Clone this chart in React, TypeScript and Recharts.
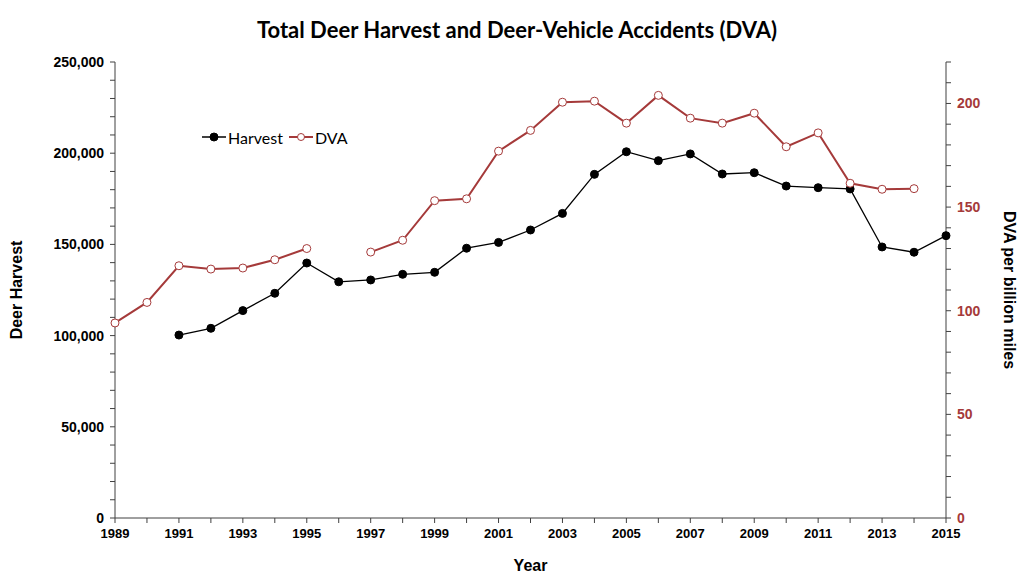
import React from "react";
import { LineChart, Line, XAxis, YAxis } from "recharts";

// ─── Data ───────────────────────────────────────────────────────────────────

const years = [
  1989, 1990, 1991, 1992, 1993, 1994, 1995, 1996, 1997, 1998, 1999, 2000, 2001,
  2002, 2003, 2004, 2005, 2006, 2007, 2008, 2009, 2010, 2011, 2012, 2013, 2014,
  2015,
];

const harvest = [
  null, null, 100300, 104000, 113700, 123200, 139800, 129500, 130500, 133600,
  134700, 147900, 151100, 157900, 167000, 188400, 200800, 195900, 199600,
  188600, 189300, 182000, 181100, 180400, 148600, 145700, 154800,
];

const dva = [
  94.1, 104.0, 121.7, 120.1, 120.6, 124.6, 130.0, null, 128.3, 134.0, 153.1,
  154.0, 177.0, 187.0, 200.6, 201.1, 190.5, 203.9, 192.9, 190.5, 195.3, 179.1,
  185.8, 161.5, 158.6, 158.9, null,
];

const harvestTicks = [
  0, 10000, 20000, 30000, 40000, 50000, 60000, 70000, 80000, 90000, 100000,
  110000, 120000, 130000, 140000, 150000, 160000, 170000, 180000, 190000,
  200000, 210000, 220000, 230000, 240000, 250000,
];

const dvaTicks = [
  0, 10, 20, 30, 40, 50, 60, 70, 80, 90, 100, 110, 120, 130, 140, 150, 160,
  170, 180, 190, 200, 210, 220,
];

const data = years.map((year, i) => ({
  year,
  harvest: harvest[i],
  dva: dva[i],
}));

const DVA_RED = "#a53a3a";
const AXIS_GREY = "#404040";
const tickFont = '"Liberation Sans", Arial, sans-serif';

// ─── Ticks ──────────────────────────────────────────────────────────────────

function YearTick({ x, y, payload }: any) {
  if (payload.value % 2 === 0) return null;
  return (
    <text
      x={x}
      y={y + 13}
      textAnchor="middle"
      fontFamily={tickFont}
      fontWeight="bold"
      fontSize={13}
      fill="#000"
    >
      {payload.value}
    </text>
  );
}

function HarvestTick({ x, y, payload }: any) {
  if (payload.value % 50000 !== 0) return null;
  return (
    <text
      x={x - 4}
      y={y + 5}
      textAnchor="end"
      fontFamily={tickFont}
      fontWeight="bold"
      fontSize={14}
      fill="#000"
    >
      {payload.value.toLocaleString("en-US")}
    </text>
  );
}

function DvaTick({ x, y, payload }: any) {
  if (payload.value % 50 !== 0) return null;
  return (
    <text
      x={x + 4}
      y={y + 5}
      textAnchor="start"
      fontFamily={tickFont}
      fontWeight="bold"
      fontSize={14}
      fill={DVA_RED}
    >
      {payload.value}
    </text>
  );
}

// ─── Legend ─────────────────────────────────────────────────────────────────

function LegendBox() {
  const item = (label: string, color: string, hollow: boolean) => (
    <span style={{ display: "inline-flex", alignItems: "center", marginRight: 6 }}>
      <svg width={24} height={10}>
        <line x1={0} y1={5} x2={24} y2={5} stroke={color} strokeWidth={hollow ? 2 : 1.5} />
        <circle
          cx={12}
          cy={5}
          r={hollow ? 3.5 : 4}
          fill={hollow ? "#fff" : color}
          stroke={color}
          strokeWidth={1}
        />
      </svg>
      <span style={{ marginLeft: 2 }}>{label}</span>
    </span>
  );
  return (
    <div
      style={{
        position: "absolute",
        left: 202,
        top: 126,
        fontFamily: "Lato, sans-serif",
        fontSize: 16,
        color: "#000",
        whiteSpace: "nowrap",
      }}
    >
      {item("Harvest", "#000", false)}
      {item("DVA", DVA_RED, true)}
    </div>
  );
}

// ─── Chart ──────────────────────────────────────────────────────────────────

export default function App() {
  return (
    <div
      style={{
        position: "absolute",
        left: 0,
        top: 0,
        width: 1024,
        height: 583,
        background: "#fff",
      }}
    >
      <LineChart
        width={1024}
        height={583}
        data={data}
        margin={{ top: 62, right: 0, left: 0, bottom: 0 }}
      >
        <XAxis
          dataKey="year"
          type="number"
          domain={[1989, 2015]}
          ticks={years}
          interval={0}
          height={65}
          tick={<YearTick />}
          tickSize={5}
          stroke={AXIS_GREY}
          label={{
            value: "Year",
            position: "insideBottom",
            offset: 12,
            style: {
              fontFamily: tickFont,
              fontWeight: "bold",
              fontSize: 16,
              fill: "#000",
            },
          }}
        />
        <YAxis
          yAxisId="left"
          domain={[0, 250000]}
          ticks={harvestTicks}
          interval={0}
          width={115}
          tick={<HarvestTick />}
          tickSize={5}
          stroke={AXIS_GREY}
          label={{
            value: "Deer Harvest",
            angle: -90,
            position: "insideLeft",
            offset: 16,
            style: {
              fontFamily: tickFont,
              fontWeight: "bold",
              fontSize: 16,
              fill: "#000",
              textAnchor: "middle",
            },
          }}
        />
        <YAxis
          yAxisId="right"
          orientation="right"
          domain={[0, 220]}
          ticks={dvaTicks}
          interval={0}
          width={78}
          tick={<DvaTick />}
          tickSize={5}
          stroke={AXIS_GREY}
          label={{
            value: "DVA per billion miles",
            angle: 90,
            position: "insideRight",
            offset: 14,
            style: {
              fontFamily: tickFont,
              fontWeight: "bold",
              fontSize: 16,
              fill: "#000",
              textAnchor: "middle",
            },
          }}
        />
        <Line
          yAxisId="left"
          dataKey="harvest"
          name="Harvest"
          stroke="#000"
          strokeWidth={1.3}
          dot={{ r: 4, fill: "#000", stroke: "#000", strokeWidth: 1 }}
          isAnimationActive={false}
        />
        <Line
          yAxisId="right"
          dataKey="dva"
          name="DVA"
          stroke={DVA_RED}
          strokeWidth={2}
          dot={{ r: 4, fill: "#fff", stroke: DVA_RED, strokeWidth: 1 }}
          isAnimationActive={false}
        />
      </LineChart>

      <div
        style={{
          position: "absolute",
          top: 16,
          left: 0,
          width: 1034,
          textAlign: "center",
          fontFamily: "Lato, sans-serif",
          fontWeight: "bold",
          fontSize: 22,
          color: "#000",
        }}
      >
        Total Deer Harvest and Deer-Vehicle Accidents (DVA)
      </div>
      <LegendBox />
    </div>
  );
}
